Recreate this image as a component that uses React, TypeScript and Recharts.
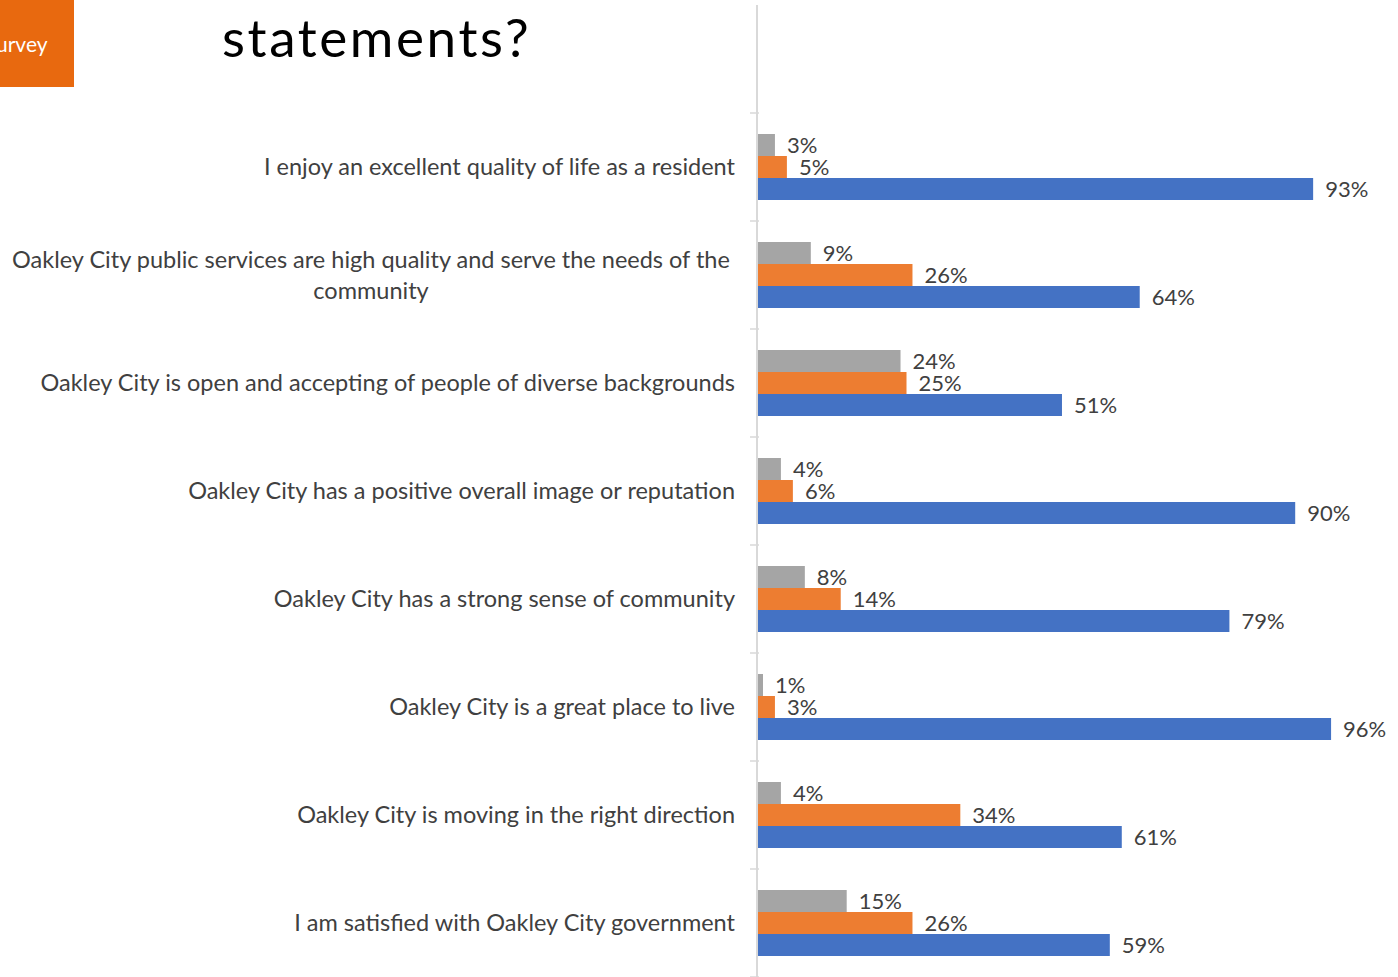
import { BarChart, Bar, XAxis, YAxis, LabelList } from 'recharts';

// Survey statements (top to bottom)
const statements = [
  'I enjoy an excellent quality of life as a resident',
  'Oakley City public services are high quality and serve the needs of the community',
  'Oakley City is open and accepting of people of diverse backgrounds',
  'Oakley City has a positive overall image or reputation',
  'Oakley City has a strong sense of community',
  'Oakley City is a great place to live',
  'Oakley City is moving in the right direction',
  'I am satisfied with Oakley City government',
];

const grayValues = [3, 9, 24, 4, 8, 1, 4, 15];
const orangeValues = [5, 26, 25, 6, 14, 3, 34, 26];
const blueValues = [93, 64, 51, 90, 79, 96, 61, 59];

const data = statements.map((s, i) => ({
  statement: s,
  gray: grayValues[i],
  orange: orangeValues[i],
  blue: blueValues[i],
}));

const FONT = 'Lato, "Open Sans", sans-serif';
const TEXT_COLOR = '#404040';
const TICK_SIZE = 23.5;
const MAX_W = 728;

// word wrap using canvas measurement
const wrap = (text: string) => {
  const ctx = document.createElement('canvas').getContext('2d');
  if (!ctx) return [text];
  ctx.font = `${TICK_SIZE}px ${FONT}`;
  const lines: string[] = [];
  let cur = '';
  text.split(' ').forEach((w) => {
    const next = cur ? cur + ' ' + w : w;
    if (cur && ctx.measureText(next).width > MAX_W) {
      lines.push(cur);
      cur = w;
    } else cur = next;
  });
  if (cur) lines.push(cur);
  return lines;
};

const CategoryTick = (props: any) => {
  const { x, y, payload, index, visibleTicksCount } = props;
  const off = payload.offset || 0;
  const lines = wrap(String(payload.value));
  const lh = 31;
  const startY = y + 8 - ((lines.length - 1) * lh) / 2;
  return (
    <g>
      <line x1={x + 1} x2={x + 10} y1={y - off} y2={y - off} stroke="#d9d9d9" strokeWidth={1.5} />
      {index === visibleTicksCount - 1 && (
        <line x1={x + 1} x2={x + 10} y1={y + off} y2={y + off} stroke="#d9d9d9" strokeWidth={1.5} />
      )}
      <text x={x - 14} y={startY} textAnchor="middle" fill={TEXT_COLOR} fontSize={TICK_SIZE} fontFamily={FONT}>
        {lines.map((l, i) => (
          <tspan key={i} x={lines.length > 1 ? x - 14 - MAX_W / 2 : x - 14} dy={i === 0 ? 0 : lh}
            textAnchor={lines.length > 1 ? 'middle' : 'end'}>
            {l}
          </tspan>
        ))}
      </text>
    </g>
  );
};

const pct = (v: any) => `${v}%`;

export default function App() {
  return (
    <div style={{ position: 'absolute', left: 0, top: 0, width: 1398, height: 977, background: '#fff', overflow: 'hidden' }}>
      {/* header pieces */}
      <div style={{ position: 'absolute', left: 0, top: 0, width: 74, height: 87, background: '#E8690F' }}>
        <span style={{ position: 'absolute', left: -4, top: 31, color: '#fff', fontFamily: FONT, fontSize: 21 }}>urvey</span>
      </div>
      <div style={{ position: 'absolute', left: 222, top: 2, color: '#000', fontFamily: FONT, fontSize: 53, letterSpacing: 2.6, lineHeight: '70px' }}>
        statements?
      </div>
      <div style={{ position: 'absolute', left: 756, top: 5, width: 2, height: 110, background: '#d9d9d9' }} />

      <BarChart
        width={1398}
        height={977}
        data={data}
        layout="vertical"
        margin={{ top: 113, right: 43, bottom: 0, left: 0 }}
        barGap={0}
        barSize={22}
      >
        <XAxis type="number" domain={[0, 100]} hide />
        <YAxis
          type="category"
          dataKey="statement"
          width={757}
          axisLine={{ stroke: '#d9d9d9', strokeWidth: 2 }}
          tickLine={false}
          tick={<CategoryTick />}
          interval={0}
        />
        <Bar dataKey="gray" fill="#A5A5A5" isAnimationActive={false}>
          <LabelList dataKey="gray" position="right" offset={12} formatter={pct} fill={TEXT_COLOR} fontSize={22} fontFamily={FONT} />
        </Bar>
        <Bar dataKey="orange" fill="#ED7D31" isAnimationActive={false}>
          <LabelList dataKey="orange" position="right" offset={12} formatter={pct} fill={TEXT_COLOR} fontSize={22} fontFamily={FONT} />
        </Bar>
        <Bar dataKey="blue" fill="#4472C4" isAnimationActive={false}>
          <LabelList dataKey="blue" position="right" offset={12} formatter={pct} fill={TEXT_COLOR} fontSize={22} fontFamily={FONT} />
        </Bar>
      </BarChart>
    </div>
  );
}
